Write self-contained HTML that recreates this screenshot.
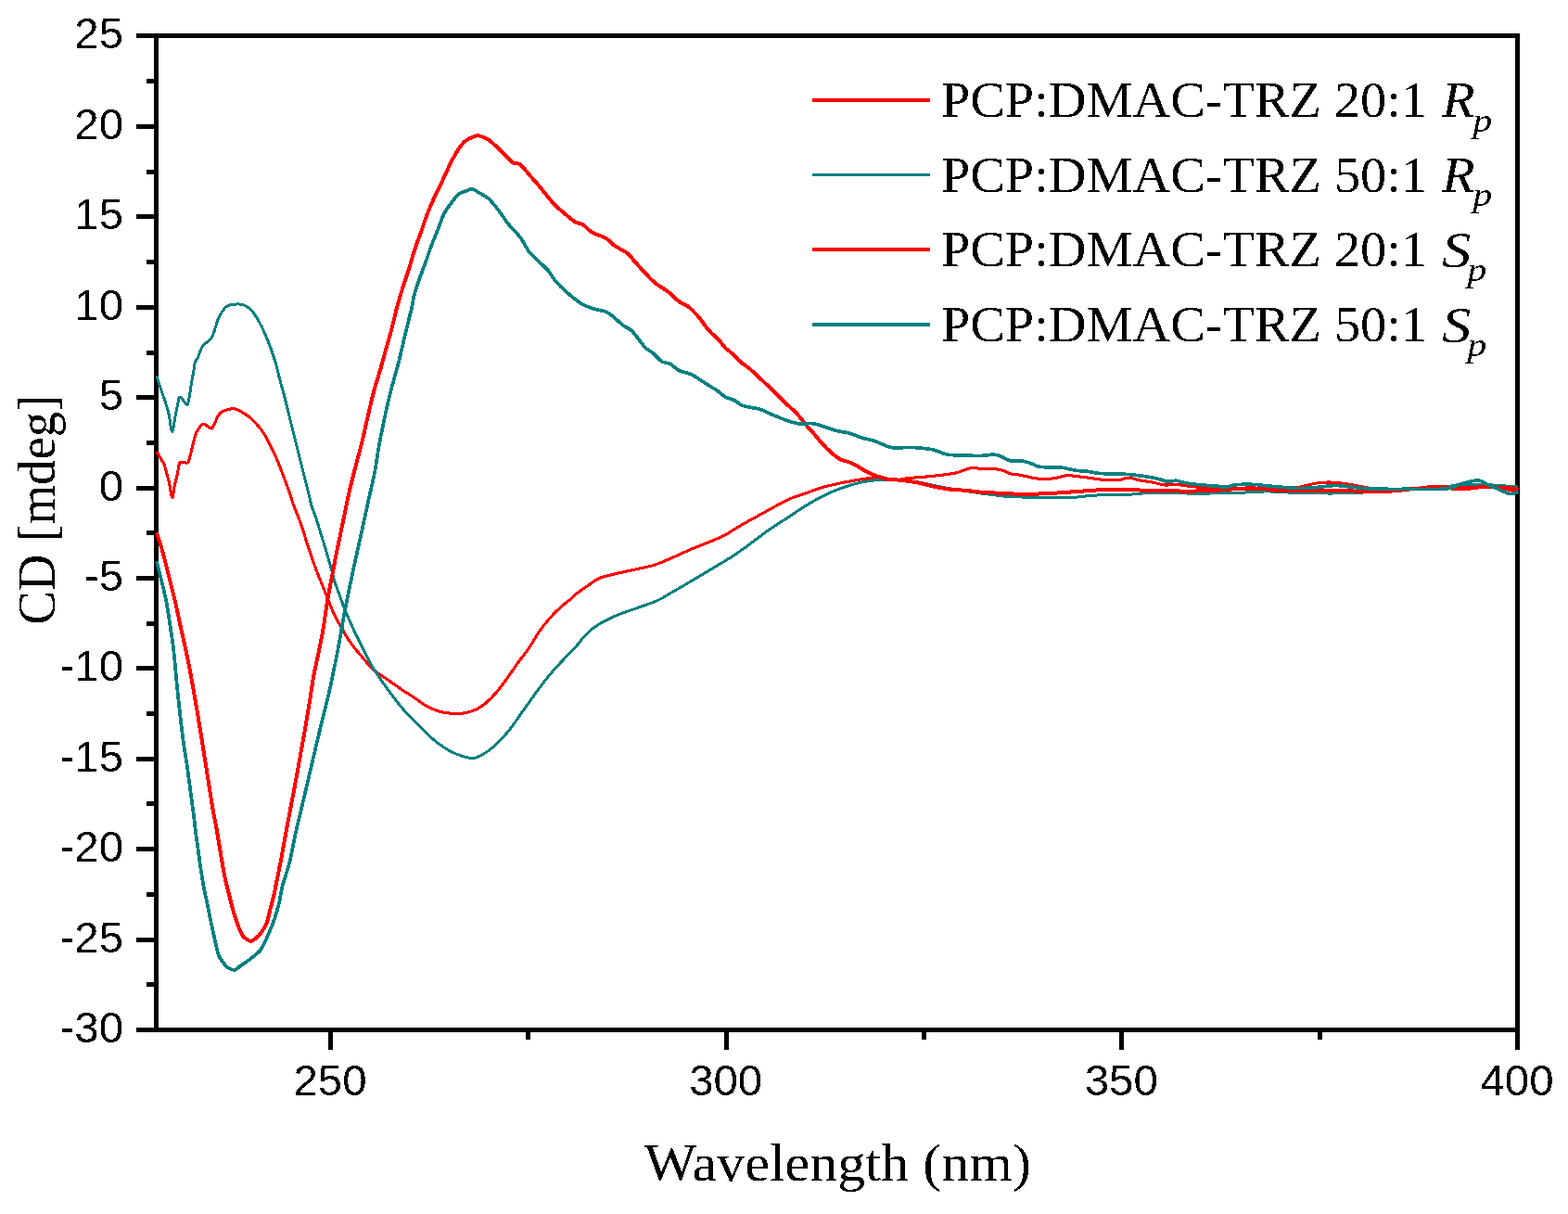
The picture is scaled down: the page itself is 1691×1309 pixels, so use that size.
<!DOCTYPE html>
<html><head><meta charset="utf-8"><title>CD spectra</title>
<style>html,body{margin:0;padding:0;background:#fff;}svg{display:block;}</style></head><body>
<svg width="1691" height="1309" viewBox="0 0 1691 1309">
<rect x="0" y="0" width="1691" height="1309" fill="#fff"/>
<defs><filter id="bin" filterUnits="userSpaceOnUse" x="0" y="0" width="1691" height="1309"><feComponentTransfer><feFuncA type="discrete" tableValues="0 1"/></feComponentTransfer></filter></defs>
<g fill="#000" shape-rendering="crispEdges">
<rect x="166" y="36" width="5" height="1077"/>
<rect x="1634" y="36" width="5" height="1077"/>
<rect x="147" y="36" width="1492" height="5"/>
<rect x="166" y="1108" width="1473" height="5"/>
<rect x="147" y="134" width="20" height="5"/>
<rect x="147" y="231" width="20" height="5"/>
<rect x="147" y="329" width="20" height="5"/>
<rect x="147" y="426" width="20" height="5"/>
<rect x="147" y="524" width="20" height="5"/>
<rect x="147" y="621" width="20" height="5"/>
<rect x="147" y="718" width="20" height="5"/>
<rect x="147" y="816" width="20" height="5"/>
<rect x="147" y="913" width="20" height="5"/>
<rect x="147" y="1011" width="20" height="5"/>
<rect x="147" y="1108" width="20" height="5"/>
<rect x="158" y="85" width="9" height="5"/>
<rect x="158" y="183" width="9" height="5"/>
<rect x="158" y="280" width="9" height="5"/>
<rect x="158" y="378" width="9" height="5"/>
<rect x="158" y="475" width="9" height="5"/>
<rect x="158" y="572" width="9" height="5"/>
<rect x="158" y="670" width="9" height="5"/>
<rect x="158" y="767" width="9" height="5"/>
<rect x="158" y="864" width="9" height="5"/>
<rect x="158" y="962" width="9" height="5"/>
<rect x="158" y="1059" width="9" height="5"/>
<rect x="354" y="1110" width="5" height="22"/>
<rect x="781" y="1110" width="5" height="22"/>
<rect x="1207" y="1110" width="5" height="22"/>
<rect x="1634" y="1110" width="5" height="22"/>
<rect x="567" y="1110" width="5" height="11"/>
<rect x="994" y="1110" width="5" height="11"/>
<rect x="1421" y="1110" width="5" height="11"/>
</g>
<g fill="none" stroke-linejoin="round" stroke-linecap="round" shape-rendering="crispEdges">
<path stroke="#ff0000" stroke-width="3.1" d="M169.5,488.3C170.1,489.2 171.7,491.5 173.0,493.7C174.3,495.9 176.0,498.4 177.2,501.3C178.3,504.2 179.0,508.1 179.9,511.3C180.8,514.5 181.6,516.2 182.5,520.4C183.4,524.6 184.6,536.0 185.6,536.5C186.6,537.0 187.4,527.7 188.3,523.5C189.2,519.3 190.4,515.3 191.3,511.3C192.2,507.3 192.4,501.5 193.6,499.4C194.8,497.3 196.7,498.7 198.2,498.6C199.7,498.5 201.7,499.8 202.8,498.6C204.0,497.4 204.3,494.1 205.1,491.4C205.9,488.7 206.5,485.8 207.4,482.2C208.3,478.6 209.4,473.1 210.4,470.0C211.4,466.9 212.0,465.4 213.5,463.3C215.0,461.2 217.2,457.4 219.6,457.2C222.0,457.0 226.0,462.4 228.0,462.1C230.0,461.8 230.4,458.2 231.8,455.6C233.2,453.0 234.6,448.7 236.4,446.5C238.2,444.3 240.6,443.5 242.5,442.6C244.4,441.7 246.0,441.4 247.9,441.1C249.8,440.9 251.6,440.4 254.0,441.1C256.4,441.8 259.8,443.7 262.6,445.4C265.4,447.1 267.9,448.6 270.9,451.4C273.9,454.1 277.8,458.4 280.6,461.9C283.4,465.4 285.3,468.4 287.6,472.5C289.9,476.6 292.4,481.8 294.6,486.5C296.8,491.2 298.9,495.9 300.8,500.6C302.7,505.3 304.4,510.0 306.1,514.7C307.9,519.4 309.6,523.7 311.3,528.7C313.1,533.7 314.9,539.9 316.6,544.6C318.3,549.3 320.0,553.1 321.5,557.0C323.0,560.9 323.9,563.3 325.5,568.0C327.1,572.7 329.2,579.8 331.0,585.4C332.8,591.0 334.7,596.6 336.5,601.9C338.3,607.2 340.2,612.2 342.0,617.0C343.8,621.8 345.7,626.1 347.5,630.7C349.3,635.3 351.2,639.9 353.0,644.5C354.8,649.1 356.7,654.1 358.5,658.2C360.3,662.3 362.2,665.8 364.0,669.2C365.8,672.6 367.7,675.6 369.5,678.8C371.3,682.0 372.9,685.3 375.0,688.5C377.1,691.7 379.6,695.1 381.9,698.1C384.2,701.1 386.2,703.3 388.7,706.3C391.2,709.3 393.9,712.8 397.0,716.0C400.1,719.2 403.7,722.8 407.4,725.7C411.1,728.6 414.6,730.6 419.0,733.6C423.4,736.6 428.8,740.5 433.6,743.8C438.5,747.1 443.8,750.3 448.1,753.2C452.5,756.1 455.8,759.0 459.7,761.2C463.6,763.4 467.4,765.0 471.3,766.3C475.2,767.6 478.1,768.5 482.9,768.9C487.7,769.3 495.2,769.6 500.3,768.9C505.4,768.2 509.5,766.7 513.4,764.9C517.3,763.1 520.0,761.3 523.6,758.3C527.2,755.3 531.3,751.2 535.2,746.7C539.1,742.2 542.9,736.8 546.8,731.5C550.7,726.2 554.5,720.1 558.4,714.8C562.3,709.5 566.1,705.2 570.0,699.5C573.9,693.8 577.8,686.3 581.7,680.7C585.6,675.1 589.4,670.5 593.3,666.1C597.2,661.7 601.0,658.0 604.9,654.5C608.8,651.0 614.0,647.3 616.5,645.1C619.0,642.9 617.4,643.6 620.0,641.5C622.6,639.4 627.8,635.7 632.1,632.7C636.5,629.7 641.4,625.9 646.1,623.7C650.8,621.5 654.5,621.1 660.2,619.6C665.9,618.1 672.9,616.7 680.3,615.0C687.7,613.3 697.0,611.9 704.4,609.6C711.8,607.4 717.9,604.4 724.6,601.5C731.3,598.6 738.0,595.4 744.7,592.5C751.4,589.6 758.8,586.9 764.8,584.4C770.8,581.9 774.9,580.6 780.9,577.4C786.9,574.2 794.3,569.1 801.0,565.3C807.7,561.4 815.2,557.6 821.1,554.3C827.0,551.0 831.3,548.5 836.6,545.7C841.9,542.9 847.6,539.8 853.1,537.4C858.6,535.0 864.2,533.5 869.7,531.6C875.2,529.7 880.7,527.4 886.2,525.8C891.7,524.1 897.3,522.9 902.8,521.7C908.3,520.5 913.8,519.4 919.3,518.4C924.8,517.4 930.4,516.3 935.9,515.9C941.4,515.5 947.0,515.7 952.5,515.9C958.0,516.1 964.6,517.2 969.0,517.2C973.4,517.2 975.1,516.0 979.0,515.6C982.9,515.2 987.8,515.0 992.2,514.6C996.6,514.2 1001.1,513.9 1005.5,513.4C1009.9,512.9 1014.6,512.4 1018.7,511.8C1022.8,511.2 1026.7,510.9 1030.3,510.1C1033.9,509.3 1037.2,507.8 1040.2,506.8C1043.2,505.8 1045.5,504.5 1048.5,504.3C1051.5,504.1 1054.5,505.4 1058.4,505.6C1062.3,505.8 1067.8,505.3 1071.7,505.6C1075.6,505.9 1078.6,506.4 1081.6,507.3C1084.6,508.2 1086.9,510.1 1089.9,510.9C1093.0,511.7 1096.0,511.5 1099.9,512.2C1103.8,512.9 1108.8,514.3 1113.2,515.1C1117.6,515.9 1122.0,516.8 1126.4,516.8C1130.8,516.8 1135.6,515.8 1139.7,515.1C1143.8,514.4 1147.4,512.9 1151.3,512.7C1155.2,512.5 1158.8,513.3 1162.9,513.8C1167.0,514.3 1171.7,514.9 1176.1,515.5C1180.5,516.1 1184.3,516.9 1189.3,517.3C1194.3,517.6 1201.2,518.0 1205.9,517.6C1210.6,517.2 1213.9,515.1 1217.5,515.1C1221.1,515.1 1223.3,516.8 1227.4,517.6C1231.5,518.4 1237.6,519.0 1242.3,519.9C1247.0,520.8 1251.2,522.4 1255.6,522.9C1260.0,523.4 1264.4,522.4 1268.8,522.6C1273.2,522.8 1277.7,523.7 1282.1,524.2C1286.5,524.7 1290.3,524.9 1295.3,525.4C1300.3,525.9 1306.4,526.8 1311.9,527.1C1317.4,527.4 1322.3,527.3 1328.4,527.1C1334.5,526.9 1341.4,525.9 1348.3,525.9C1355.2,525.9 1364.5,526.8 1369.8,527.1C1375.1,527.5 1375.0,528.3 1380.0,528.0C1385.0,527.7 1393.3,526.7 1400.0,525.5C1406.7,524.3 1414.3,521.9 1420.0,521.0C1425.7,520.1 1429.0,519.9 1434.0,520.0C1439.0,520.1 1444.0,520.7 1450.0,521.5C1456.0,522.3 1463.3,523.8 1470.0,525.0C1476.7,526.2 1485.0,528.2 1490.0,529.0C1495.0,529.8 1495.0,530.2 1500.0,530.0C1505.0,529.8 1513.3,528.8 1520.0,528.0C1526.7,527.2 1533.3,525.6 1540.0,525.0C1546.7,524.4 1553.3,524.3 1560.0,524.5C1566.7,524.7 1573.3,526.1 1580.0,526.0C1586.7,525.9 1594.2,524.2 1600.0,524.0C1605.8,523.8 1610.0,524.2 1615.0,525.0C1620.0,525.8 1626.5,528.5 1630.0,529.0C1633.5,529.5 1635.0,528.2 1636.0,528.0"/>
<path stroke="#008080" stroke-width="3.0" d="M169.2,406.4C170.0,408.8 172.3,416.0 173.8,420.5C175.3,425.0 176.9,429.1 178.3,433.5C179.7,437.9 181.0,441.8 182.2,447.2C183.4,452.6 184.5,465.3 185.6,465.6C186.7,465.9 187.9,454.2 189.0,448.8C190.1,443.4 191.3,436.9 192.1,433.5C192.9,430.1 192.8,428.6 193.6,428.1C194.4,427.6 195.3,429.0 196.7,430.4C198.1,431.8 200.7,437.0 202.0,436.5C203.3,436.0 203.5,431.5 204.3,427.4C205.1,423.3 205.8,416.7 206.6,412.1C207.4,407.5 208.3,403.5 208.9,399.9C209.5,396.3 209.6,393.1 210.4,390.7C211.2,388.3 212.1,388.3 213.5,385.3C214.9,382.3 216.2,376.4 218.7,372.8C221.2,369.2 225.6,369.0 228.4,364.0C231.2,359.0 233.2,348.4 235.8,342.8C238.5,337.2 241.2,332.9 244.3,330.5C247.4,328.1 251.0,328.4 254.1,328.1C257.1,327.8 259.8,327.8 262.6,328.8C265.4,329.9 268.2,331.6 270.9,334.4C273.6,337.2 276.3,341.6 278.8,345.8C281.3,350.1 283.6,354.9 285.8,359.9C288.0,364.9 290.1,370.4 292.0,375.7C293.9,381.0 295.7,386.0 297.3,391.6C298.9,397.2 300.2,403.5 301.7,409.1C303.2,414.7 304.6,419.4 306.1,425.0C307.6,430.6 309.1,436.8 310.5,442.6C311.9,448.5 313.4,454.2 314.8,460.1C316.2,466.0 317.7,471.8 319.2,477.7C320.7,483.6 322.1,489.4 323.6,495.3C325.1,501.2 326.5,507.0 328.0,512.9C329.5,518.8 331.0,524.8 332.4,530.5C333.8,536.2 335.1,542.4 336.5,547.0C337.9,551.6 339.0,553.1 340.6,557.9C342.2,562.7 344.3,569.8 346.1,575.7C347.9,581.7 349.8,587.4 351.6,593.6C353.4,599.8 355.5,607.2 357.1,612.9C358.7,618.6 359.6,623.0 361.2,628.0C362.8,633.0 364.9,638.1 366.7,643.1C368.5,648.1 370.4,653.6 372.2,658.2C374.0,662.8 375.9,666.5 377.7,670.6C379.5,674.7 381.4,679.1 383.2,683.0C385.0,686.9 386.9,690.3 388.7,694.0C390.5,697.7 392.5,701.6 394.2,705.0C395.9,708.4 397.0,711.1 399.0,714.6C401.0,718.1 402.7,720.7 406.0,725.7C409.3,730.7 414.4,738.2 419.0,744.5C423.6,750.8 428.8,757.7 433.6,763.4C438.5,769.1 443.3,773.7 448.1,778.7C452.9,783.7 457.8,788.9 462.6,793.2C467.4,797.6 472.3,801.5 477.1,804.8C481.9,808.1 486.3,810.7 491.6,812.8C496.9,814.9 504.2,817.4 509.1,817.5C514.0,817.6 516.4,816.0 520.7,813.5C525.1,811.0 530.4,807.1 535.2,802.6C540.0,798.1 544.9,792.7 549.7,786.6C554.5,780.5 559.4,773.1 564.2,766.3C569.0,759.5 573.9,752.5 578.7,746.0C583.6,739.5 588.4,732.9 593.3,727.1C598.1,721.3 603.0,716.3 607.8,711.1C612.6,705.9 618.2,700.4 622.3,695.9C626.3,691.4 628.1,687.8 632.1,684.0C636.1,680.2 640.8,676.2 646.1,672.9C651.5,669.5 657.5,666.8 664.2,663.9C670.9,661.0 679.0,658.5 686.4,655.8C693.8,653.1 702.1,650.6 708.5,647.8C714.9,644.9 717.9,642.6 724.6,638.7C731.3,634.9 741.3,629.1 748.7,624.7C756.1,620.4 762.1,616.6 768.8,612.6C775.5,608.6 782.2,604.9 788.9,600.5C795.6,596.1 802.3,591.4 809.0,586.5C815.7,581.6 822.4,576.1 829.1,571.4C835.8,566.7 843.5,562.0 849.2,558.3C854.9,554.6 858.0,552.2 863.1,549.0C868.2,545.8 874.1,542.1 879.6,539.1C885.1,536.1 890.7,533.2 896.2,530.8C901.7,528.4 907.2,526.3 912.7,524.5C918.2,522.7 923.8,521.1 929.3,520.0C934.8,518.9 940.3,518.0 945.8,517.6C951.3,517.2 956.9,517.8 962.4,517.9C967.9,518.0 973.5,517.9 979.0,518.4C984.5,518.9 990.0,519.9 995.5,520.9C1001.0,521.9 1006.6,523.4 1012.1,524.5C1017.6,525.6 1023.1,526.6 1028.6,527.5C1034.1,528.4 1039.7,529.2 1045.2,530.0C1050.7,530.8 1056.2,531.8 1061.7,532.5C1067.2,533.2 1073.6,534.0 1078.3,534.5C1083.0,535.0 1083.9,535.4 1090.0,535.7C1096.1,536.0 1106.5,536.1 1114.8,536.2C1123.1,536.3 1132.2,536.5 1139.7,536.5C1147.2,536.5 1154.0,536.5 1159.5,536.2C1165.0,535.9 1167.8,535.2 1172.8,534.8C1177.8,534.4 1183.8,533.9 1189.3,533.7C1194.8,533.5 1200.4,533.8 1205.9,533.7C1211.4,533.6 1217.0,533.3 1222.5,532.9C1228.0,532.5 1233.5,531.7 1239.0,531.5C1244.5,531.3 1250.1,531.5 1255.6,531.5C1261.1,531.5 1266.6,531.3 1272.1,531.5C1277.6,531.7 1283.2,532.4 1288.7,532.5C1294.2,532.6 1299.8,532.2 1305.3,532.0C1310.8,531.8 1316.3,531.6 1321.8,531.5C1327.3,531.4 1332.9,531.4 1338.4,531.2C1343.9,531.0 1349.7,530.6 1354.9,530.4C1360.1,530.2 1362.3,529.8 1369.8,530.0C1377.3,530.2 1388.3,531.2 1400.0,531.5C1411.7,531.8 1428.3,532.1 1440.0,532.0C1451.7,531.9 1460.0,531.7 1470.0,531.0C1480.0,530.3 1490.0,528.8 1500.0,528.0C1510.0,527.2 1521.7,526.1 1530.0,526.0C1538.3,525.9 1543.3,528.0 1550.0,527.5C1556.7,527.0 1563.3,523.9 1570.0,523.0C1576.7,522.1 1583.3,522.0 1590.0,522.0C1596.7,522.0 1602.3,522.5 1610.0,523.0C1617.7,523.5 1631.7,524.7 1636.0,525.0"/>
<path stroke="#ff0000" stroke-width="4" d="M169.3,576.1C170.1,578.5 172.7,585.7 174.2,590.8C175.7,595.9 177.1,601.6 178.4,606.7C179.7,611.8 180.9,616.4 182.1,621.3C183.3,626.2 184.6,631.1 185.8,636.0C187.0,640.9 188.2,645.4 189.4,650.7C190.6,656.0 191.9,662.1 193.1,667.8C194.3,673.5 195.6,679.4 196.8,684.9C198.0,690.4 199.2,695.3 200.4,701.0C201.6,706.7 202.9,713.0 204.1,719.0C205.3,725.0 206.3,731.0 207.4,737.0C208.5,743.0 209.5,748.8 210.6,755.0C211.7,761.2 212.8,767.8 213.8,774.0C214.8,780.2 215.8,786.0 216.8,792.0C217.8,798.0 218.7,804.0 219.6,810.0C220.5,816.0 221.4,821.0 222.5,828.0C223.6,835.0 225.0,844.5 226.2,852.0C227.4,859.5 228.5,866.7 229.6,873.0C230.7,879.3 231.8,883.9 232.9,890.0C234.0,896.1 235.1,903.0 236.2,909.5C237.3,916.0 238.3,922.7 239.4,929.0C240.5,935.3 241.5,941.5 242.7,947.1C243.9,952.7 245.3,957.5 246.6,962.7C247.9,967.9 249.2,973.5 250.5,978.3C251.8,983.1 253.1,987.4 254.4,991.3C255.7,995.2 256.9,998.7 258.2,1001.7C259.5,1004.7 260.8,1007.7 262.1,1009.5C263.4,1011.3 264.6,1011.8 266.0,1012.7C267.4,1013.6 269.1,1015.0 270.6,1014.9C272.1,1014.8 273.6,1013.2 275.1,1012.1C276.6,1011.0 278.2,1009.9 279.7,1008.2C281.2,1006.5 282.8,1004.1 284.2,1001.7C285.6,999.3 287.0,996.9 288.1,993.9C289.2,990.9 289.8,987.0 290.7,983.5C291.6,980.0 292.4,976.6 293.3,973.1C294.2,969.6 295.0,966.6 295.9,962.7C296.8,958.8 297.6,954.0 298.5,949.7C299.4,945.4 300.3,940.9 301.1,936.8C301.9,932.7 302.2,932.2 303.5,925.0C304.8,917.8 307.2,904.0 309.1,893.5C311.1,883.0 313.3,871.8 315.2,861.8C317.1,851.8 318.9,842.5 320.5,833.7C322.1,824.9 323.4,817.2 324.9,809.0C326.4,800.8 327.8,792.9 329.3,784.4C330.8,775.9 332.2,767.1 333.7,758.0C335.2,748.9 336.3,739.9 338.1,729.9C339.9,719.9 342.9,707.1 344.7,698.1C346.5,689.1 347.5,684.4 348.9,676.1C350.3,667.9 351.5,657.5 353.0,648.6C354.5,639.7 356.2,631.0 357.8,622.5C359.4,614.0 361.0,605.7 362.6,597.7C364.2,589.7 365.9,581.5 367.4,574.4C368.9,567.3 369.9,562.4 371.5,555.0C373.1,547.6 374.8,538.3 376.7,530.1C378.6,521.9 380.6,514.3 382.8,505.6C385.0,496.9 387.8,487.1 390.1,477.9C392.4,468.7 394.2,459.7 396.4,450.3C398.6,440.9 400.9,430.3 403.2,421.7C405.5,413.1 408.0,406.1 410.1,398.8C412.2,391.5 413.9,385.0 415.8,378.1C417.7,371.2 419.5,365.5 421.6,357.5C423.7,349.5 426.4,337.9 428.5,330.0C430.6,322.1 432.3,316.8 434.4,310.0C436.5,303.2 439.0,296.2 441.2,289.3C443.4,282.4 445.2,275.3 447.4,268.7C449.6,262.1 452.1,255.7 454.3,249.5C456.5,243.3 458.3,237.3 460.5,231.6C462.7,225.9 465.0,220.4 467.4,215.1C469.8,209.8 473.2,203.6 474.9,200.0C476.6,196.4 475.7,197.9 477.8,193.3C479.9,188.7 484.8,178.1 487.6,172.6C490.5,167.1 492.5,163.8 494.9,160.3C497.3,156.8 499.3,154.0 502.2,151.8C505.1,149.6 509.5,147.8 512.0,146.9C514.5,146.0 514.5,145.9 517.0,146.5C519.5,147.1 523.5,148.5 526.7,150.6C529.9,152.7 533.1,156.0 536.4,159.1C539.6,162.2 543.3,166.1 546.2,168.9C549.1,171.7 551.2,174.3 553.6,175.7C556.0,177.1 558.0,175.3 560.9,177.4C563.8,179.5 567.5,184.7 570.7,188.4C574.0,192.1 577.0,195.4 580.4,199.4C583.8,203.4 588.0,208.9 591.1,212.6C594.2,216.3 596.3,218.9 599.2,221.8C602.1,224.7 604.9,226.9 608.3,229.8C611.7,232.7 616.3,236.9 619.8,239.0C623.2,241.1 626.0,240.5 629.0,242.4C632.0,244.3 633.9,247.9 638.1,250.4C642.3,252.9 650.0,254.8 654.2,257.3C658.4,259.8 659.6,262.6 663.4,265.3C667.2,268.0 673.7,270.7 677.1,273.4C680.5,276.1 681.0,278.0 684.0,281.4C687.0,284.8 691.6,290.0 695.4,294.0C699.2,298.0 702.7,302.0 706.9,305.4C711.1,308.8 716.5,311.4 720.7,314.6C724.9,317.9 728.5,322.2 732.1,324.9C735.7,327.6 739.0,328.0 742.4,330.7C745.8,333.4 749.2,336.8 752.8,341.0C756.4,345.2 760.4,351.5 764.2,355.9C768.0,360.3 772.7,364.1 775.7,367.3C778.8,370.6 780.2,373.1 782.5,375.4C784.8,377.7 786.7,378.6 789.4,381.1C792.1,383.6 795.5,387.6 798.6,390.3C801.7,393.0 804.2,394.1 807.8,397.1C811.4,400.1 815.8,404.4 820.0,408.3C824.2,412.2 828.8,416.4 833.2,420.7C837.6,425.0 842.1,429.6 846.5,433.9C850.9,438.2 855.8,442.2 859.7,446.4C863.6,450.5 866.7,455.2 869.7,458.8C872.8,462.4 875.2,464.7 878.0,467.9C880.8,471.1 883.2,474.5 886.2,477.8C889.2,481.1 892.9,484.9 896.2,487.8C899.5,490.7 902.8,493.4 906.1,495.2C909.4,497.0 912.7,497.1 916.0,498.5C919.3,499.9 922.7,501.7 926.0,503.5C929.3,505.3 932.6,507.7 935.9,509.3C939.2,510.9 942.2,512.2 945.8,513.4C949.4,514.6 953.5,516.0 957.4,516.7C961.3,517.4 964.9,517.2 969.0,517.6C973.1,518.0 977.9,518.5 982.3,519.2C986.7,519.9 991.1,520.7 995.5,521.7C999.9,522.7 1003.8,524.0 1008.8,525.0C1013.8,526.0 1019.8,527.2 1025.3,527.8C1030.8,528.4 1036.4,528.3 1041.9,528.8C1047.4,529.3 1052.9,530.3 1058.4,530.8C1063.9,531.3 1069.7,531.3 1075.0,531.6C1080.3,531.9 1084.7,532.2 1090.0,532.4C1095.3,532.6 1101.1,532.9 1106.6,532.9C1112.1,532.9 1117.6,532.6 1123.1,532.4C1128.6,532.2 1134.2,531.8 1139.7,531.5C1145.2,531.2 1150.7,530.8 1156.2,530.4C1161.7,530.0 1167.3,529.6 1172.8,529.2C1178.3,528.8 1183.8,528.3 1189.3,528.2C1194.8,528.1 1200.4,528.4 1205.9,528.4C1211.4,528.4 1217.0,528.3 1222.5,528.4C1228.0,528.5 1233.5,528.6 1239.0,528.7C1244.5,528.8 1250.1,529.1 1255.6,529.2C1261.1,529.3 1266.6,529.5 1272.1,529.5C1277.6,529.5 1283.2,529.5 1288.7,529.5C1294.2,529.5 1299.8,529.5 1305.3,529.2C1310.8,528.9 1316.3,528.2 1321.8,527.9C1327.3,527.5 1332.0,527.2 1338.4,527.1C1344.8,527.0 1353.1,526.7 1360.0,527.0C1366.9,527.3 1373.3,528.7 1380.0,529.0C1386.7,529.3 1391.7,529.0 1400.0,529.0C1408.3,529.0 1420.0,528.9 1430.0,529.0C1440.0,529.1 1450.0,529.3 1460.0,529.5C1470.0,529.7 1480.0,530.3 1490.0,530.0C1500.0,529.7 1510.0,528.2 1520.0,527.5C1530.0,526.8 1540.0,526.1 1550.0,526.0C1560.0,525.9 1571.7,527.2 1580.0,527.0C1588.3,526.8 1593.3,525.2 1600.0,525.0C1606.7,524.8 1614.0,525.7 1620.0,526.0C1626.0,526.3 1633.3,526.8 1636.0,527.0"/>
<path stroke="#008080" stroke-width="3.7" d="M169.3,606.7C169.9,609.1 171.7,616.4 172.9,621.3C174.1,626.2 175.5,631.1 176.6,636.0C177.7,640.9 178.8,645.8 179.7,650.7C180.6,655.6 181.3,660.4 182.1,665.3C182.9,670.2 183.6,675.0 184.3,680.0C185.0,685.0 185.8,689.7 186.5,695.0C187.2,700.3 187.8,705.7 188.4,712.0C189.0,718.3 189.6,726.0 190.3,733.0C191.0,740.0 191.7,747.3 192.4,754.0C193.1,760.7 193.8,766.8 194.5,773.0C195.2,779.2 196.0,785.8 196.7,791.5C197.4,797.2 198.1,802.2 198.9,807.5C199.7,812.8 200.7,818.6 201.4,823.5C202.1,828.4 202.5,831.2 203.3,836.9C204.1,842.6 205.1,850.6 206.0,857.5C206.9,864.4 207.9,871.3 208.8,878.2C209.7,885.1 210.2,891.2 211.2,898.8C212.2,906.4 213.7,916.6 214.7,923.8C215.7,931.0 216.4,936.3 217.3,941.9C218.2,947.5 218.9,952.3 219.9,957.5C220.9,962.7 222.1,967.9 223.2,973.1C224.3,978.3 225.3,983.5 226.4,988.7C227.5,993.9 228.6,999.3 229.7,1004.3C230.8,1009.3 231.8,1014.2 232.9,1018.6C234.0,1023.0 235.0,1027.9 236.2,1030.9C237.4,1033.9 238.6,1034.8 240.1,1036.8C241.6,1038.8 243.1,1041.7 245.3,1043.2C247.5,1044.7 250.7,1046.1 253.1,1045.8C255.5,1045.5 257.1,1042.9 259.5,1041.3C261.9,1039.7 264.9,1037.8 267.3,1036.1C269.7,1034.4 271.6,1032.7 273.8,1030.9C276.0,1029.1 278.4,1027.6 280.3,1025.1C282.2,1022.6 283.8,1019.5 285.5,1016.0C287.2,1012.5 289.0,1008.4 290.7,1004.3C292.4,1000.2 294.2,996.5 295.9,991.3C297.6,986.1 299.7,979.0 301.1,973.1C302.5,967.2 302.5,963.6 304.4,956.2C306.3,948.8 310.2,938.2 312.6,928.6C315.0,919.0 316.5,908.7 318.7,898.7C320.9,888.7 323.4,878.8 325.8,868.8C328.2,858.8 330.5,848.9 332.8,838.9C335.1,828.9 337.5,819.0 339.8,809.0C342.1,799.0 344.5,788.8 346.9,779.1C349.2,769.4 351.7,760.7 353.9,751.0C356.1,741.3 358.4,730.3 360.3,721.0C362.2,711.7 363.6,704.8 365.4,695.3C367.2,685.8 369.1,673.6 370.9,663.7C372.7,653.9 374.6,645.1 376.4,636.2C378.2,627.3 380.1,618.6 381.9,610.1C383.7,601.6 385.7,593.2 387.4,585.4C389.1,577.6 390.4,571.6 392.2,563.4C394.0,555.2 396.1,545.3 398.1,536.2C400.1,527.1 402.4,518.2 404.2,508.7C406.0,499.2 407.4,487.8 409.0,479.0C410.6,470.2 412.1,463.4 413.6,456.1C415.1,448.8 416.4,442.7 418.1,435.4C419.8,428.1 422.0,419.8 423.9,412.5C425.8,405.2 427.7,399.3 429.6,391.9C431.5,384.4 433.4,375.8 435.3,367.8C437.2,359.8 439.6,350.1 441.1,343.8C442.6,337.5 443.6,334.3 444.5,330.0C445.4,325.7 445.3,323.4 446.7,318.2C448.1,313.0 450.8,304.9 452.9,299.0C455.0,293.1 457.0,288.2 459.1,282.5C461.2,276.8 463.2,270.1 465.3,264.6C467.4,259.1 469.2,255.2 471.5,249.5C473.8,243.8 476.3,235.5 479.0,230.2C481.7,224.9 485.0,221.3 487.6,217.8C490.2,214.3 492.3,211.2 494.9,209.2C497.5,207.2 500.9,206.5 503.4,205.6C505.8,204.7 507.4,203.4 509.6,203.8C511.9,204.2 514.0,206.3 516.9,208.0C519.8,209.7 523.5,211.2 526.7,214.1C530.0,216.9 532.7,220.4 536.4,225.1C540.1,229.8 544.6,237.1 548.7,242.2C552.8,247.3 557.2,250.8 560.9,255.7C564.6,260.6 567.5,267.3 570.7,271.6C574.0,275.9 577.0,278.0 580.4,281.3C583.8,284.6 588.0,288.1 591.1,291.7C594.2,295.3 596.0,299.4 599.2,303.2C602.5,307.0 606.0,310.6 610.6,314.6C615.2,318.6 621.7,324.1 626.7,327.2C631.7,330.3 635.8,331.5 640.4,333.0C645.0,334.5 650.4,334.7 654.2,336.4C658.0,338.1 660.4,340.8 663.4,343.3C666.4,345.8 669.5,349.0 672.5,351.3C675.5,353.6 677.9,353.2 681.7,357.0C685.5,360.8 691.6,370.2 695.4,374.2C699.2,378.2 701.5,378.5 704.6,381.1C707.7,383.7 710.7,387.9 713.8,389.8C716.9,391.7 720.0,391.0 723.0,392.6C726.0,394.2 728.3,397.5 732.1,399.4C735.9,401.3 740.5,401.3 745.9,404.0C751.2,406.7 759.6,412.6 764.2,415.5C768.8,418.4 770.4,419.1 773.4,421.2C776.4,423.3 779.5,426.4 782.5,428.1C785.5,429.8 788.6,430.0 791.7,431.5C794.8,433.0 797.1,435.9 800.9,437.3C804.7,438.8 811.4,439.5 814.6,440.2C817.8,440.9 816.6,440.1 820.0,441.4C823.4,442.7 829.9,445.9 834.9,448.0C839.9,450.1 845.1,452.3 849.8,453.8C854.5,455.3 858.7,456.6 863.1,457.1C867.5,457.6 871.9,456.1 876.3,456.6C880.7,457.2 885.1,459.1 889.5,460.4C893.9,461.7 898.4,463.5 902.8,464.6C907.2,465.7 911.6,465.9 916.0,467.1C920.4,468.3 924.9,470.6 929.3,472.0C933.7,473.4 938.6,474.1 942.5,475.3C946.4,476.6 949.2,478.2 952.5,479.5C955.8,480.8 958.0,482.3 962.4,482.8C966.8,483.3 974.6,482.5 979.0,482.5C983.4,482.5 984.5,482.4 988.9,482.8C993.3,483.2 1000.0,483.6 1005.5,484.8C1011.0,486.0 1016.5,489.2 1022.0,490.2C1027.5,491.2 1033.1,490.5 1038.6,490.7C1044.1,490.9 1049.6,491.7 1055.1,491.6C1060.6,491.5 1067.5,490.1 1071.7,490.2C1075.9,490.3 1077.0,491.3 1080.0,492.4C1083.0,493.5 1086.6,496.2 1089.9,496.9C1093.2,497.6 1096.6,496.5 1099.9,496.8C1103.2,497.1 1106.6,497.9 1109.9,498.9C1113.2,499.9 1116.0,502.2 1119.8,503.0C1123.6,503.8 1128.6,503.7 1133.0,503.9C1137.4,504.1 1141.9,503.8 1146.3,504.4C1150.7,504.9 1155.1,506.5 1159.5,507.2C1163.9,507.9 1168.4,507.8 1172.8,508.3C1177.2,508.9 1180.5,510.1 1186.0,510.5C1191.5,510.9 1200.4,510.6 1205.9,510.8C1211.4,511.0 1214.2,511.3 1219.2,511.8C1224.2,512.3 1230.7,513.0 1235.7,513.8C1240.7,514.5 1245.1,515.4 1249.0,516.3C1252.9,517.2 1255.6,519.0 1258.9,519.3C1262.2,519.6 1265.5,518.0 1268.8,518.3C1272.1,518.6 1274.4,520.1 1278.8,520.9C1283.2,521.7 1289.8,522.3 1295.3,522.9C1300.8,523.5 1307.5,523.8 1311.9,524.2C1316.3,524.6 1318.5,525.3 1321.8,525.1C1325.1,524.9 1328.5,523.4 1331.8,522.9C1335.1,522.4 1337.8,522.3 1341.7,522.3C1345.6,522.2 1350.2,522.3 1354.9,522.6C1359.6,522.9 1362.3,523.6 1369.8,524.2C1377.3,524.9 1391.6,526.3 1400.0,526.5C1408.4,526.7 1413.3,526.0 1420.0,525.5C1426.7,525.0 1433.3,523.5 1440.0,523.5C1446.7,523.5 1453.3,524.9 1460.0,525.5C1466.7,526.1 1470.0,526.7 1480.0,527.0C1490.0,527.3 1506.7,527.5 1520.0,527.5C1533.3,527.5 1550.8,527.9 1560.0,527.0C1569.2,526.1 1569.3,523.5 1575.0,522.0C1580.7,520.5 1589.0,517.8 1594.0,518.0C1599.0,518.2 1601.5,521.5 1605.0,523.0C1608.5,524.5 1611.2,525.4 1615.0,527.0C1618.8,528.6 1624.5,531.8 1628.0,532.5C1631.5,533.2 1634.7,531.2 1636.0,531.0"/>
</g>
<g filter="url(#bin)">
<g font-family="'Liberation Sans', Arial, sans-serif" font-size="46" fill="#000" text-anchor="end">
<text transform="translate(133,52.0) scale(1.03,1)">25</text>
<text transform="translate(133,150.0) scale(1.03,1)">20</text>
<text transform="translate(133,247.4) scale(1.03,1)">15</text>
<text transform="translate(133,344.8) scale(1.03,1)">10</text>
<text transform="translate(133,442.2) scale(1.03,1)">5</text>
<text transform="translate(133,539.6) scale(1.03,1)">0</text>
<text transform="translate(133,637.0) scale(1.03,1)">-5</text>
<text transform="translate(133,734.4) scale(1.03,1)">-10</text>
<text transform="translate(133,831.8) scale(1.03,1)">-15</text>
<text transform="translate(133,929.2) scale(1.03,1)">-20</text>
<text transform="translate(133,1026.6) scale(1.03,1)">-25</text>
<text transform="translate(133,1124.0) scale(1.03,1)">-30</text>
</g>
<g font-family="'Liberation Sans', Arial, sans-serif" font-size="46" fill="#000" text-anchor="middle">
<text transform="translate(356.0,1181) scale(1.03,1)">250</text>
<text transform="translate(782.7,1181) scale(1.03,1)">300</text>
<text transform="translate(1209.3,1181) scale(1.03,1)">350</text>
<text transform="translate(1636.0,1181) scale(1.03,1)">400</text>
</g>
<g shape-rendering="crispEdges">
<rect x="876" y="106" width="127" height="4" fill="#ff0000"/>
<rect x="876" y="187" width="127" height="3" fill="#008080"/>
<rect x="876" y="267" width="127" height="4" fill="#ff0000"/>
<rect x="876" y="348" width="127" height="4" fill="#008080"/>
</g>
<g font-family="'Liberation Serif', 'Times New Roman', serif" font-size="54" fill="#000">
<text x="1015" y="126.0" textLength="524" lengthAdjust="spacingAndGlyphs">PCP:DMAC-TRZ 20:1</text>
<text transform="translate(1555,126.0) scale(1.078,1)" font-style="italic">R</text>
<text transform="translate(1588.3,141.7) scale(1.17,1)" font-style="italic" font-size="36">p</text>
<text x="1015" y="206.7" textLength="524" lengthAdjust="spacingAndGlyphs">PCP:DMAC-TRZ 50:1</text>
<text transform="translate(1555,206.7) scale(1.078,1)" font-style="italic">R</text>
<text transform="translate(1588.3,222.4) scale(1.17,1)" font-style="italic" font-size="36">p</text>
<text x="1015" y="287.3" textLength="524" lengthAdjust="spacingAndGlyphs">PCP:DMAC-TRZ 20:1</text>
<text transform="translate(1555,288.3) scale(1.12,1)" font-style="italic" font-size="56">S</text>
<text transform="translate(1582.3,303.0) scale(1.17,1)" font-style="italic" font-size="36">p</text>
<text x="1015" y="368.0" textLength="524" lengthAdjust="spacingAndGlyphs">PCP:DMAC-TRZ 50:1</text>
<text transform="translate(1555,369.0) scale(1.12,1)" font-style="italic" font-size="56">S</text>
<text transform="translate(1582.3,383.7) scale(1.17,1)" font-style="italic" font-size="36">p</text>
</g>
<text x="694.5" y="1273" font-family="'Liberation Serif', 'Times New Roman', serif" font-size="56" textLength="417.5" lengthAdjust="spacingAndGlyphs">Wavelength (nm)</text>
<text transform="translate(58.7,673.7) rotate(-90) scale(1,1.04)" x="0" y="0" font-family="'Liberation Serif', 'Times New Roman', serif" font-size="55" textLength="248.2" lengthAdjust="spacingAndGlyphs">CD [mdeg]</text>
</g>
</svg>
</body></html>
